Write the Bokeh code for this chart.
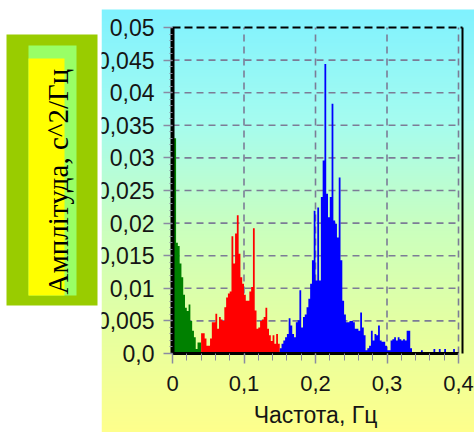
import numpy as np
from bokeh.plotting import figure
from bokeh.models import LinearAxis, FixedTicker, Range1d
from bokeh.core.properties import value
from bokeh.embed import file_html
from bokeh.resources import INLINE

# ---------------- data ----------------
freq_step = 0.0025  # Hz per spectral bin
# VLF band 0 - 0.04 Hz
vlf = [0.033, 0.033, 0.017, 0.0165, 0.0138, 0.0117, 0.009, 0.007,
       0.0065, 0.0075, 0.005, 0.0035, 0.0025, 0.0007, 0.0017, 0.0017]
# LF band 0.04 - 0.15 Hz
lf = [0.0031, 0.0031, 0.0023, 0.0012, 0.0012, 0.0023, 0.0048, 0.0048,
      0.0061, 0.0038, 0.0056, 0.0052, 0.005, 0.0071, 0.0086, 0.0092,
      0.0095, 0.018, 0.0138, 0.0184, 0.0212, 0.0153, 0.0117, 0.0107,
      0.009, 0.0081, 0.0081, 0.0095, 0.0102, 0.0192, 0.0066, 0.0038,
      0.004, 0.005, 0.0052, 0.0056, 0.007, 0.0038, 0.0028, 0.0019,
      0.0028, 0.0015, 0.003, 0.0015]
# HF band 0.15 - 0.4 Hz
hf = [0.0008, 0.0015, 0.002, 0.0025, 0.003, 0.0054, 0.0043, 0.003,
      0.0025, 0.0048, 0.0051, 0.0097, 0.004, 0.0056, 0.006, 0.0071,
      0.0084, 0.0107, 0.0143, 0.0219, 0.0112, 0.0224, 0.0112, 0.024,
      0.0296, 0.0444, 0.0245, 0.0209, 0.024, 0.0383, 0.0204, 0.0199,
      0.0178, 0.027, 0.0143, 0.0081, 0.006, 0.0048, 0.0048, 0.005,
      0.005, 0.0048, 0.0038, 0.0038, 0.0035, 0.0063, 0.004, 0.0028,
      0.0005, 0.0008, 0.0012, 0.0035, 0.002, 0.003, 0.0028, 0.0043,
      0.002, 0.0018, 0.0018, 0.0012, 0.0005, 0.0005, 0.002, 0.0022,
      0.0025, 0.002, 0.0025, 0.0022, 0.002, 0.0022, 0.002, 0.0035,
      0.0035, 0.0008, 0.0, 0.0, 0.0, 0.0, 0.0, 0.0005,
      0.0, 0.0, 0.0, 0.0, 0.0, 0.0, 0.0007, 0.0,
      0.0, 0.0007, 0.0, 0.0, 0.0007, 0.0, 0.0, 0.0,
      0.0, 0.0007, 0.0, 0.0]

y_ticks = [0.0, 0.005, 0.01, 0.015, 0.02, 0.025, 0.03, 0.035, 0.04, 0.045, 0.05]
y_tick_labels = ["0,0", "0,005", "0,01", "0,015", "0,02", "0,025",
                 "0,03", "0,035", "0,04", "0,045", "0,05"]
x_ticks = [0.0, 0.1, 0.2, 0.3, 0.4]
x_tick_labels = ["0", "0,1", "0,2", "0,3", "0,4"]
y_label = "Амплітуда, с^2/Гц"
x_label = "Частота, Гц"

# ---------------- layout helpers (pixel -> data) ----------------
W, H = 474, 432
X0_PX, X_PX_PER = 172.0, 715.0
Y0_PX, Y_PX_PER = 353.0, 6520.0


def fx(px):
    return (px - X0_PX) / X_PX_PER


def fy(py):
    return (Y0_PX - py) / Y_PX_PER


X_MAX, Y_MAX = x_ticks[-1], y_ticks[-1]

p = figure(width=W, height=H, output_backend="svg", toolbar_location=None,
           x_range=Range1d(fx(0), fx(W)), y_range=Range1d(fy(H), fy(0)),
           x_axis_type=None, y_axis_type=None, min_border=0,
           background_fill_color="white", border_fill_color="white",
           outline_line_color=None)
p.title.visible = False

# gradient background
g_top, g_bot, g_left = 9, H, 101
n = g_bot - g_top
stops_py = [9, 120, 230, 330, 432]
stops_rgb = [(128, 242, 255), (165, 252, 240), (203, 255, 190),
             (230, 255, 160), (255, 255, 140)]
py_rows = g_bot - 0.5 - np.arange(n)
img = np.empty((n, 1), dtype=np.uint32)
view = img.view(dtype=np.uint8).reshape((n, 1, 4))
for k in range(3):
    view[:, 0, k] = np.interp(py_rows, stops_py, [c[k] for c in stops_rgb]).astype(np.uint8)
view[:, 0, 3] = 255
p.image_rgba(image=[img], x=fx(g_left), y=fy(g_bot), dw=fx(W) - fx(g_left),
             dh=fy(g_top) - fy(g_bot), level="image")

# grid lines (dashed) from tick arrays
GRID = "#7c7c96"
xg = [t for t in x_ticks if t > 0]
p.segment(x0=xg, x1=xg, y0=[0] * len(xg), y1=[Y_MAX] * len(xg),
          line_color=GRID, line_width=1.6, line_dash="7 5", level="underlay")
yg = [t for t in y_ticks if 0 < t < Y_MAX]
p.segment(x0=[0] * len(yg), x1=[X_MAX] * len(yg), y0=yg, y1=yg,
          line_color=GRID, line_width=1.6, line_dash="7 5", level="underlay")
# plot frame: dashed black top, solid black right
p.segment(x0=[0], x1=[fx(462)], y0=[Y_MAX], y1=[Y_MAX], line_color="black",
          line_width=2, line_dash="8 4", level="underlay")
p.segment(x0=[fx(462)], x1=[fx(462)], y0=[0], y1=[Y_MAX], line_color="black",
          line_width=2, level="underlay")

# spectrum bars, each band drawn as one stepped area (no seams between bins)
bands = [(vlf, "#008000"), (lf, "#ff0000"), (hf, "#0000ff")]
start = 0
for vals, col in bands:
    edges = (start + np.arange(len(vals) + 1)) * freq_step
    xs = [edges[0]]
    ys = [0.0]
    for i, v in enumerate(vals):
        xs += [edges[i], edges[i + 1]]
        ys += [v, v]
    xs.append(edges[-1])
    ys.append(0.0)
    p.patch(x=xs, y=ys, fill_color=col, line_color=None)
    start += len(vals)

TICK = "#8a8aa2"
FONT = "Liberation Sans"

yax = LinearAxis(fixed_location=0, bounds=(0, Y_MAX),
                 ticker=FixedTicker(ticks=y_ticks,
                                    minor_ticks=list(np.round(np.arange(0, Y_MAX + 1e-9, 0.001), 4))))
yax.axis_line_color = "black"
yax.axis_line_width = 4
yax.major_tick_line_color = TICK
yax.major_tick_line_width = 1.5
yax.major_tick_in = 0
yax.major_tick_out = 9
yax.minor_tick_line_color = TICK
yax.minor_tick_in = 0
yax.minor_tick_out = 3
yax.major_label_text_font = FONT
yax.major_label_text_font_size = "23px"
yax.major_label_text_color = "#151515"
yax.major_label_standoff = 9
yax.major_label_overrides = dict(zip(y_ticks, y_tick_labels))
p.add_layout(yax, "left")

xax = LinearAxis(fixed_location=0, bounds=(0, X_MAX),
                 ticker=FixedTicker(ticks=x_ticks,
                                    minor_ticks=list(np.round(np.arange(0, X_MAX + 1e-9, 0.02), 3))))
xax.axis_line_color = "black"
xax.axis_line_width = 3
xax.major_tick_line_color = TICK
xax.major_tick_line_width = 1.5
xax.major_tick_in = 0
xax.major_tick_out = 10
xax.minor_tick_line_color = TICK
xax.minor_tick_in = 0
xax.minor_tick_out = 7
xax.major_label_text_font = FONT
xax.major_label_text_font_size = "22px"
xax.major_label_text_color = "#151515"
xax.major_label_standoff = 12
xax.major_label_overrides = dict(zip(x_ticks, x_tick_labels))
xax.axis_label = x_label
xax.axis_label_text_font = FONT
xax.axis_label_text_font_size = "23px"
xax.axis_label_text_font_style = "normal"
xax.axis_label_text_color = "#151515"
xax.axis_label_standoff = 8
p.add_layout(xax, "below")

# left label panel (overlay, drawn above axes)
p.quad(left=[fx(0)], right=[fx(g_left)], bottom=[fy(H)], top=[fy(0)],
       fill_color="white", line_color=None, level="overlay")
p.quad(left=[fx(6)], right=[fx(97)], bottom=[fy(305)], top=[fy(34)],
       fill_color="#99cc00", line_color=None, level="overlay")
p.quad(left=[fx(28)], right=[fx(76)], bottom=[fy(295)], top=[fy(45)],
       fill_color="#99ff66", line_color=None, level="overlay")
p.quad(left=[fx(28)], right=[fx(64)], bottom=[fy(295)], top=[fy(58)],
       fill_color="#ffff00", line_color=None, level="overlay")
p.text(x=[fx(57)], y=[fy(294)], text=[y_label], angle=np.pi / 2,
       text_font=value("Liberation Serif, DejaVu Serif, serif"), text_font_size="29px",
       text_color="black", text_align="left", text_baseline="alphabetic",
       level="overlay")

open("out.html", "w").write(file_html(p, INLINE))
